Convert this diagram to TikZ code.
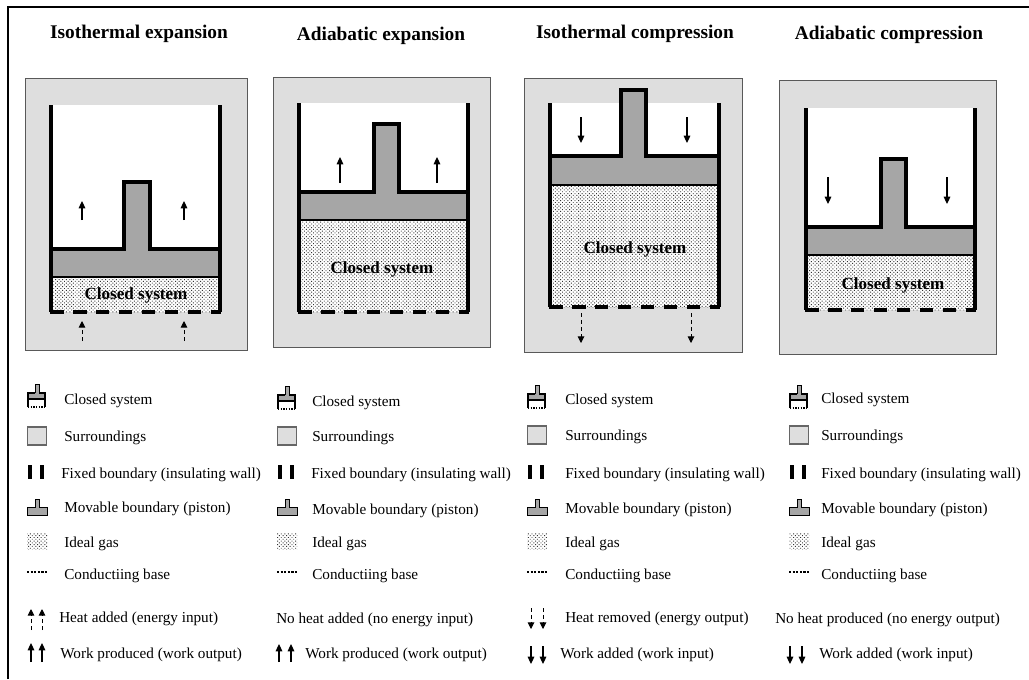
\documentclass[tikz,border=0pt]{standalone}
\usepackage{fontspec}
\setmainfont{Liberation Serif}
\usetikzlibrary{patterns.meta,arrows.meta}
\definecolor{surr}{gray}{0.87}
\definecolor{pist}{gray}{0.65}
\tikzset{
 title/.style={font=\bfseries\fontsize{14.5}{16}\selectfont,anchor=center,inner sep=0},
 leg/.style={font=\fontsize{11.4}{13}\selectfont,anchor=west,inner sep=0},
 cs/.style={font=\bfseries\fontsize{12.8}{14}\selectfont,anchor=center,inner sep=0},
 gas/.style={pattern={Dots[distance=1.9pt,radius=0.5pt,angle=45]},pattern color=black!80},
 wall/.style={line width=2.3pt},
 workarr/.style={line width=0.8pt,-{Triangle[length=5.5pt,width=5pt]}},
 heatarr/.style={line width=0.7pt,dash pattern=on 3pt off 2.2pt,-{Triangle[length=5pt,width=5pt]}},
 base/.style={line width=2.4pt,dash pattern=on 10.2pt off 7pt},
}
\newcommand{\panel}[9]{%
 \fill[surr,draw=black!65,line width=0.7pt] (#1,#3) rectangle (#2,#4);
 \def\wl{#5}\def\wr{#6}\def\yt{#7}\def\yb{#8}\def\pt{#9}\panelb}
\newcommand{\panelb}[4]{%
 \fill[white] (\wl,\yt) rectangle (\wr,\yb);
 \fill[gas] (\wl,#1) rectangle (\wr,\yb);
 \fill[pist] (\wl,\pt) rectangle (\wr,#1) (#2,\pt) rectangle (#3,#4);
 \draw[wall,line join=miter] (\wl,\pt) -- (#2,\pt) -- (#2,#4) -- (#3,#4) -- (#3,\pt) -- (\wr,\pt);
 \draw[line width=1.6pt] (\wl,#1) -- (\wr,#1);
 \draw[wall] (\wl,\yt) -- (\wl,\yb) (\wr,\yt) -- (\wr,\yb);
 \draw[base] (\wl-1,\yb) -- (\wr+1,\yb);
}
\newcommand{\icons}[7]{%
 \begin{scope}[xshift=#1*0.75pt]
 \fill[pist] (8,#2-13) rectangle (12,#2-4);
 \fill[pist] (1,#2-4) rectangle (18,#2+2);
 \draw[line width=0.7pt] (8,#2-4) -- (8,#2-13) -- (12,#2-13) -- (12,#2-4);
 \draw[line width=1.1pt] (1,#2+10) -- (1,#2-4) -- (8,#2-4) (12,#2-4) -- (18,#2-4) -- (18,#2+10);
 \draw[line width=1.1pt] (1,#2+2) -- (18,#2+2);
 \draw[line width=0.8pt,dash pattern=on 1pt off 1pt] (1,#2+10) -- (18,#2+10);
 \fill[surr,draw=black!60,line width=0.8pt] (0.5,#3-9) rectangle (19.5,#3+9);
 \draw[line width=2.7pt] (3,#4-9) -- (3,#4+5) (15,#4-9) -- (15,#4+5);
 \fill[pist] (0,#5+2) rectangle (20,#5+10);
 \fill[pist] (8,#5-6) rectangle (12,#5+2);
 \draw[line width=0.7pt] (0,#5+10) -- (0,#5+2) -- (8,#5+2) -- (8,#5-6) -- (12,#5-6) -- (12,#5+2) -- (20,#5+2) -- (20,#5+10) -- cycle;
 \fill[gas] (0,#6-8) rectangle (20,#6+8);
 \draw[line width=1.3pt,dash pattern=on 1.6pt off 1.1pt] (0,#7) -- (20,#7);
 \end{scope}}
\begin{document}
\begin{tikzpicture}[x=0.75pt,y=-0.75pt]
\useasboundingbox (0,0) rectangle (1029,679);
\draw[line width=2.1pt] (8,679) -- (8,7) -- (1029,7);

\node[title] (t1) at (139,34) {Isothermal expansion};
\node[title] (t2) at (381,36) {Adiabatic expansion};
\node[title] (t3) at (635,34) {Isothermal compression};
\node[title] (t4) at (889,35) {Adiabatic compression};

\panel{25}{247}{78}{350}{51}{220}{105}{312}{249}{277}{124}{150}{182}
\panel{273}{490}{77}{347}{299}{468}{103}{312}{192}{220}{374}{399}{124}
\panel{524}{742}{78}{352}{550}{719}{103}{307}{156}{185}{621}{646}{90}
\panel{779}{996}{80}{354}{806}{975}{108}{310}{227}{255}{881}{906}{159}

\node[cs] (c1) at (136,295) {Closed system};
\node[cs] (c2) at (382,269) {Closed system};
\node[cs] (c3) at (635,249) {Closed system};
\node[cs] (c4) at (893,285) {Closed system};

\draw[workarr] (82,220) -- (82,201);
\draw[workarr] (184,220) -- (184,201);
\draw[heatarr] (82,341) -- (82,321);
\draw[heatarr] (184,341) -- (184,321);
\draw[workarr] (340,183) -- (340,157);
\draw[workarr] (437,183) -- (437,157);
\draw[workarr] (581,117) -- (581,143);
\draw[workarr] (687,117) -- (687,143);
\draw[heatarr] (581,313) -- (581,343);
\draw[heatarr] (691,313) -- (691,343);
\draw[workarr] (828,177) -- (828,204);
\draw[workarr] (947,177) -- (947,204);

\icons{27}{397}{436}{474}{505}{541}{572}
\icons{277}{399}{436}{474}{505}{541}{572}
\icons{527}{398}{435}{474}{505}{541}{572}
\icons{789}{398}{435}{474}{505}{541}{572}

\foreach \n/\x/\ya/\yb/\yc/\yd/\xb in {a/64/400/437/474/508/61,b/312/402/437/474/510/311,c/565/400/436/474/509/565,d/821/399/436/474/509/821}{
 \node[leg] (cl\n) at (\x,\ya+1) {Closed system};
 \node[leg] (su\n) at (\x,\yb+1) {Surroundings};
 \node[leg] (fi\n) at (\xb,\yc+1) {Fixed boundary (insulating wall)};
 \node[leg] (mo\n) at (\x,\yd+1) {Movable boundary (piston)};
 \node[leg] (id\n) at (\x,544) {Ideal gas};
 \node[leg] (co\n) at (\x,576) {Conductiing base};
}
\node[leg] (h1) at (59,619) {Heat added (energy input)};
\node[leg] (w1) at (60,655) {Work produced (work output)};
\node[leg] (h2) at (276,620) {No heat added (no energy input)};
\node[leg] (w2) at (305,655) {Work produced (work output)};
\node[leg] (h3) at (565,619) {Heat removed (energy output)};
\node[leg] (w3) at (560,655) {Work added (work input)};
\node[leg] (h4) at (775,620) {No heat produced (no energy output)};
\node[leg] (w4) at (819,655) {Work added (work input)};

\draw[heatarr] (31,630) -- (31,609); \draw[heatarr] (42,630) -- (42,609);
\draw[workarr] (31,662) -- (31,643); \draw[workarr] (42,662) -- (42,643);
\draw[workarr] (279,662) -- (279,644); \draw[workarr] (291,662) -- (291,644);
\draw[heatarr] (531,608) -- (531,629); \draw[heatarr] (543,608) -- (543,629);
\draw[workarr] (531,646) -- (531,664); \draw[workarr] (543,646) -- (543,664);
\draw[workarr] (790,646) -- (790,664); \draw[workarr] (802,646) -- (802,664);
\end{tikzpicture}
\end{document}
